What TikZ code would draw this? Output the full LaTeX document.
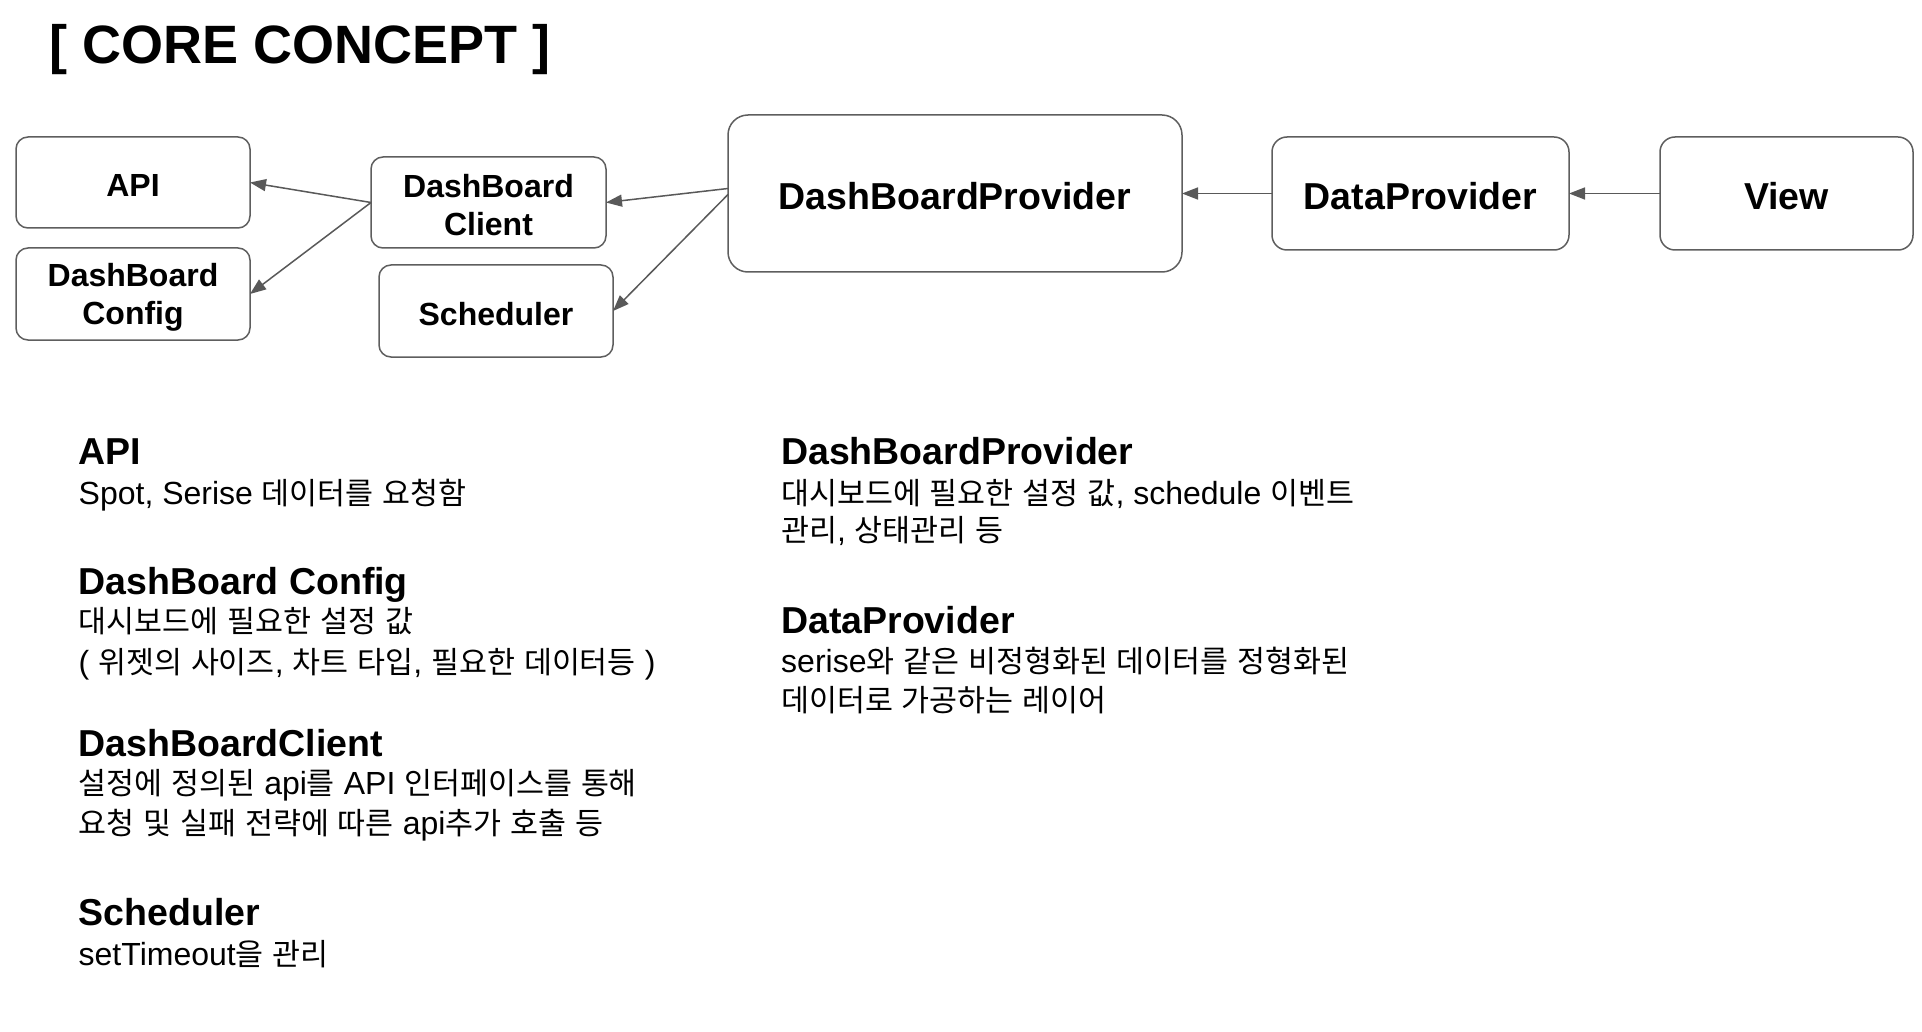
\documentclass[tikz,border=0pt]{standalone}
\usepackage{fontspec}
\setmainfont{Liberation Sans}
\newfontfamily\krfont{Noto Sans CJK KR}[Scale=0.95]
\usetikzlibrary{arrows.meta,calc}
\definecolor{edgegray}{HTML}{5E5E5E}
\definecolor{arrgray}{HTML}{595959}
\newcommand\ko[1]{{\krfont #1}}
\newcommand\dn[1]{\raisebox{-3pt}[\height][\depth]{#1}}
\tikzset{
  box/.style={draw=edgegray, line width=1.5pt, rounded corners=12pt, inner sep=0pt, outer sep=0pt,
    align=center, font=\bfseries\fontsize{32}{38}\selectfont},
  bigbox/.style={box, font=\bfseries\fontsize{37.5}{44}\selectfont},
  conn/.style={draw=arrgray, line width=1.5pt, -{Triangle[length=16pt,width=12pt]}},
  head/.style={anchor=base west, inner sep=0pt, font=\bfseries\fontsize{37.5}{44}\selectfont},
  body/.style={anchor=base west, inner sep=0pt, font=\fontsize{32}{40}\selectfont},
}
\begin{document}
\begin{tikzpicture}[x=1pt,y=-1pt]
\useasboundingbox[fill=white] (0,0) rectangle (1922,1032);

% title
\node[anchor=base west, inner sep=0pt, font=\bfseries\fontsize{54}{60}\selectfont] (title) at (49,64) {[ CORE CONCEPT ]};

% boxes
\node[box, minimum width=234pt, minimum height=91pt] (api) at (133,182.5) {\dn{API}};
\node[box, minimum width=234pt, minimum height=92pt] (cfg) at (133,294) {\dn{DashBoard}\\\dn{Config}};
\node[box, minimum width=235pt, minimum height=91pt] (cli) at (488.5,202.5) {\dn{DashBoard}\\\dn{Client}};
\node[box, minimum width=234pt, minimum height=92pt] (sch) at (496,311) {\dn{Scheduler}};
\node[bigbox, rounded corners=20pt, minimum width=454pt, minimum height=157pt] (dbp) at (955,193.5) {\dn{DashBoardProvider}};
\node[bigbox, rounded corners=15pt, minimum width=297pt, minimum height=113pt] (dp) at (1420.5,193.5) {\dn{DataProvider}};
\node[bigbox, rounded corners=15pt, minimum width=253pt, minimum height=113pt] (view) at (1786.5,193.5) {\dn{View}};

% connectors
\draw[conn] (cli.west) -- (api.east);
\draw[conn] (cli.west) -- (cfg.east);
\draw[conn] ($(dbp.west)+(0,-5)$) -- (cli.east);
\draw[conn] ($(dbp.west)+(0,1)$) -- (sch.east);
\draw[conn] (dp.west) -- (dbp.east);
\draw[conn] (view.west) -- (dp.east);

% left column
\node[head] (h1) at (78.5,464) {API};
\node[body] (b1) at (78.5,504.5) {Spot, Serise \ko{데이터를} \ko{요청함}};
\node[head] (h2) at (78.5,594) {DashBoard Config};
\node[body] (b2) at (78.5,632.5) {\ko{대시보드에} \ko{필요한} \ko{설정} \ko{값}};
\node[body] (b3) at (78.5,673.5) {( \ko{위젯의} \ko{사이즈}, \ko{차트} \ko{타입}, \ko{필요한} \ko{데이터등} )};
\node[head] (h3) at (78.5,756) {DashBoardClient};
\node[body] (b4) at (78.5,794.5) {\ko{설정에} \ko{정의된} api\ko{를} API \ko{인터페이스를} \ko{통해}};
\node[body] (b5) at (78.5,834.5) {\ko{요청} \ko{및} \ko{실패} \ko{전략에} \ko{따른} api\ko{추가} \ko{호출} \ko{등}};
\node[head] (h4) at (78.5,925) {Scheduler};
\node[body] (b6) at (78.5,965.5) {setTimeout\ko{을} \ko{관리}};

% right column
\node[head] (h5) at (781,464) {DashBoardProvider};
\node[body] (b7) at (781,504.5) {\ko{대시보드에} \ko{필요한} \ko{설정} \ko{값}, schedule \ko{이벤트}};
\node[body] (b8) at (781,541.5) {\ko{관리}, \ko{상태관리} \ko{등}};
\node[head] (h6) at (781,633) {DataProvider};
\node[body] (b9) at (781,672.5) {serise\ko{와} \ko{같은} \ko{비정형화된} \ko{데이터를} \ko{정형화된}};
\node[body] (b10) at (781,711.5) {\ko{데이터로} \ko{가공하는} \ko{레이어}};
\end{tikzpicture}
\end{document}
